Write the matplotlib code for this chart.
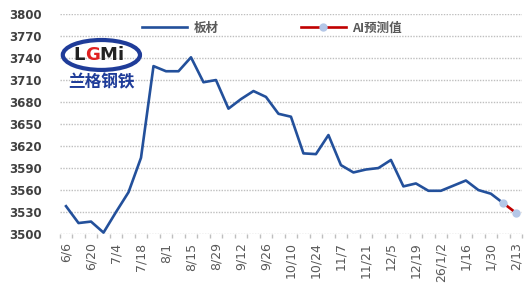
import numpy as np
import matplotlib.pyplot as plt
from matplotlib.patches import Ellipse

plt.rcParams['font.family'] = ['Noto Sans CJK SC', 'DejaVu Sans']

# weekly dates, labels shown every second week
dates = ['6/6', '6/13', '6/20', '6/27', '7/4', '7/11', '7/18', '7/25', '8/1', '8/8',
         '8/15', '8/22', '8/29', '9/5', '9/12', '9/19', '9/26', '10/3', '10/10', '10/17',
         '10/24', '10/31', '11/7', '11/14', '11/21', '11/28', '12/5', '12/12', '12/19', '12/26',
         '26/1/2', '1/9', '1/16', '1/23', '1/30', '2/6', '2/13']

plate = [3538, 3515, 3517, 3502, 3530, 3557, 3604, 3729, 3722, 3722,
         3741, 3707, 3710, 3671, 3684, 3695, 3687, 3664, 3660, 3610,
         3609, 3635, 3594, 3584, 3588, 3590, 3601, 3565, 3569, 3559,
         3559, 3566, 3573, 3560, 3555, 3542]

ai_dates = ['2/6', '2/13']
ai_pred = [3542, 3529]

yticks = list(range(3500, 3801, 30))

fig = plt.figure(figsize=(5.29, 3.02), dpi=100)
ax = fig.add_axes([0.113, 0.225, 0.874, 0.7285])

x = np.arange(len(dates))
ax.plot(x[:len(plate)], plate, color='#23509B', lw=1.9, zorder=3, label='板材')
xa = [dates.index(d) for d in ai_dates]
ax.plot(xa, ai_pred, color='#C00000', lw=1.9, marker='o', ms=5,
        mfc='#B4C7E7', mec='#B4C7E7', zorder=4, label='AI预测值')

ax.set_xlim(-0.5, len(dates) - 0.5)
ax.set_ylim(3500, 3800)
ax.set_yticks(yticks)
ax.set_yticklabels([str(v) for v in yticks], fontsize=8.5, color='#404040', fontweight='bold',
                   family='DejaVu Sans')
ax.set_xticks(x[::2])
ax.set_xticklabels(dates[::2], rotation=90, fontsize=9, color='#595959', family='DejaVu Sans')
ax.set_xticks(np.arange(-0.5, len(dates), 1), minor=True)
ax.tick_params(axis='x', which='major', length=0, pad=6)
ax.tick_params(axis='x', which='minor', length=3, color='#BFBFBF', width=1)
ax.tick_params(axis='y', length=0, pad=13)

for s in ax.spines.values():
    s.set_visible(False)
ax.grid(axis='y', color='#BFBFBF', lw=1, ls=(0, (1, 1)), zorder=0)

leg = fig.legend(*ax.get_legend_handles_labels(), loc='center left',
                 bbox_to_anchor=(142 / 529, 1 - 28 / 302), ncol=2, frameon=False,
                 fontsize=9, handlelength=3.6, handletextpad=0.5, columnspacing=6.6,
                 borderpad=0, borderaxespad=0)
for t in leg.get_texts():
    t.set_color('#595959')
    t.set_fontweight('bold')

# logo watermark
ax.add_patch(Ellipse((0.09, 0.814), 0.167, 0.136, transform=ax.transAxes, fill=False,
                     ec='#1F3C99', lw=3, zorder=2))
for ch, px, col in [('L', 74, '#222222'), ('G', 85, '#E02020'), ('M', 100, '#222222'),
                    ('i', 118, '#222222')]:
    ax.text((px - 60) / 462, 0.814, ch, transform=ax.transAxes, ha='left', va='center',
            fontsize=13, fontweight='bold', color=col, family='DejaVu Sans', zorder=2)
ax.text(0.09, 0.69, '兰格钢铁', transform=ax.transAxes, ha='center', va='center',
        fontsize=12, fontweight='bold', color='#1F3C99', zorder=2)

fig.savefig('out.png', dpi=100)
